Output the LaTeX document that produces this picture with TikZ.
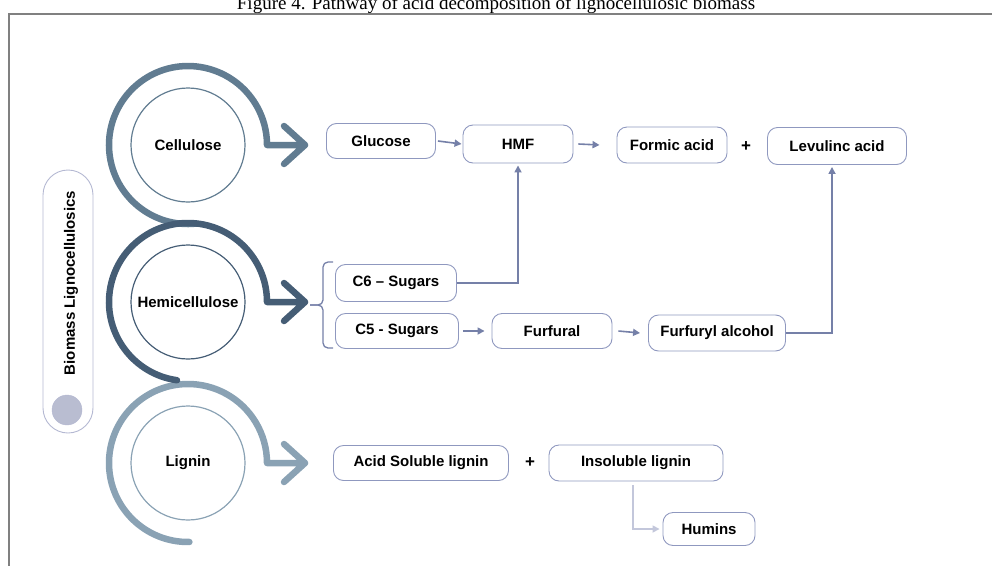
\documentclass[tikz,border=0pt]{standalone}
\usepackage{fontspec}
\setmainfont{Liberation Sans}
\newfontfamily\titlefont{Liberation Serif}
\usetikzlibrary{arrows.meta}

\definecolor{celcol}{HTML}{617C91}
\definecolor{hemcol}{HTML}{455D75}
\definecolor{ligcol}{HTML}{8AA2B4}
\definecolor{boxcol}{HTML}{8F98BF}
\definecolor{arrcol}{HTML}{7580A8}
\definecolor{humcol}{HTML}{C3C7DB}
\definecolor{pillcol}{HTML}{B4B8D2}
\definecolor{dotcol}{HTML}{B9BDD1}

\begin{document}
\begin{tikzpicture}
        [
          x=1pt, y=1pt,
          box/.style={draw=boxcol, line width=0.9pt, rounded corners=10pt,
            inner sep=0pt, font=\bfseries\fontsize{15}{17}\selectfont},
          part/.style={circle, line width=1.2pt, minimum size=114pt,
            inner sep=0pt, font=\bfseries\fontsize{15}{17}\selectfont},
          ring/.style={line width=6.5pt, line cap=round, line join=round},
          flow/.style={draw=arrcol, line width=1.6pt,
            -{Triangle[length=7pt,width=7pt]}},
          plus/.style={font=\bfseries\fontsize{17}{19}\selectfont}
        ]
        \useasboundingbox (0,0) rectangle (992,-565);
        % title and frame
        \node [anchor=base, font=\titlefont\fontsize{19}{22}\selectfont] (title) at (496,-9.5)
          {Figure 4. Pathway of acid decomposition of lignocellulosic biomass};
        \draw [color=black!50, line width=2pt] (9,-600) -- (9,-14) -- (1000,-14);
        % biomass pill
        \node [draw=pillcol, line width=0.9pt, rounded corners=25pt,
          minimum width=50pt, minimum height=263pt] (pill) at (68,-301.5) {};
        \node [rotate=90, font=\bfseries\fontsize{15}{17}\selectfont] (biomass) at (71,-283)
          {Biomass Lignocellulosics};
        \node [circle, fill=dotcol, draw=pillcol, minimum size=30pt] (dot) at (67,-410) {};
        % lignin, cellulose, hemicellulose
        \foreach \n/\y/\t/\c/\e in {lig/463/Lignin/ligcol/271,
                                    cel/145/Cellulose/celcol/276,
                                    hem/302/Hemicellulose/hemcol/262} {
            \node [part, draw=\c] (\n) at (188,-\y) {\t};
            \draw [ring, draw=\c] ([shift={(\e:79)}]\n.center)
              arc [start angle=\e, end angle=0, radius=79] -- ++(38,0)
              -- ++(-21,19) ++(21,-19) -- ++(-21,-19);
        }
        % boxes
        \foreach \n/\x/\y/\w/\h/\t in {glu/381/141/109/35/Glucose,
                                       hmf/518/144/110/38/HMF,
                                       frm/672/145/110/36/Formic acid,
                                       lev/837/146/139/37/Levulinc acid,
                                       csix/396/283/121/37/C6 – Sugars,
                                       cfive/397/331/123/35/C5 - Sugars,
                                       fur/552/331/120/35/Furfural,
                                       ffa/717/333/137/36/Furfuryl alcohol,
                                       asl/421/463/175/35/Acid Soluble lignin,
                                       isl/636/463/174/36/Insoluble lignin,
                                       hum/709/529/92/33/Humins} {
            \node [box, minimum width=\w pt, minimum height=\h pt] (\n) at (\x,-\y) {\t};
        }
        \node [plus] (plusa) at (746,-147) {+};
        \node [plus] (plusb) at (530,-463) {+};
        % bracket
        \draw [arrcol, line width=1.3pt, rounded corners=5pt]
          (333,-262) -- (323,-262) -- (323,-305) -- (310,-305);
        \draw [arrcol, line width=1.3pt, rounded corners=5pt]
          (333,-348) -- (323,-348) -- (323,-305) -- (310,-305);
        % pathway edges
        \draw [flow] ([xshift=2]glu.east) -- ([xshift=-1]hmf.west);
        \draw [flow] ([xshift=5]hmf.east) -- ([xshift=-17]frm.west);
        \draw [flow] ([xshift=4]cfive.east) -- ([xshift=-7]fur.west);
        \draw [flow] ([xshift=6]fur.east) -- ([xshift=-8]ffa.west);
        \draw [flow, shorten >=2pt] (csix.east) -| (hmf.south);
        \draw [flow, shorten >=2pt] (ffa.east) -| ([xshift=-5]lev.south);
        \draw [flow, draw=humcol, shorten <=4pt, shorten >=3pt]
          ([xshift=-3]isl.south) |- (hum.west);
      \end{tikzpicture}
\end{document}
